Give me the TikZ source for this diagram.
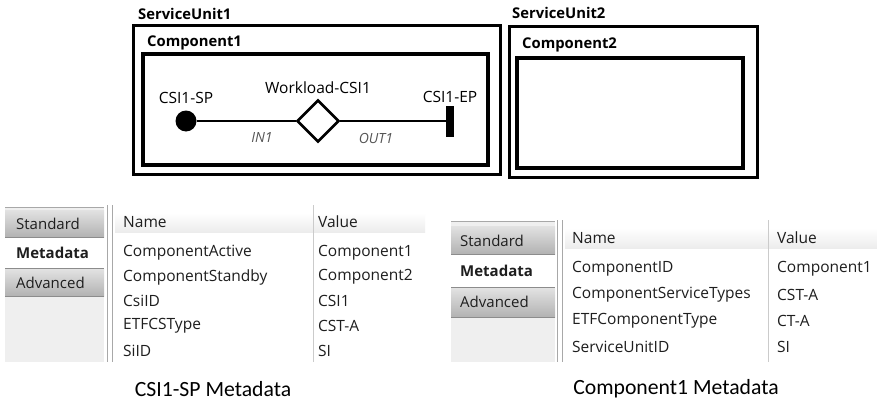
\documentclass[tikz,border=0pt]{standalone}
\usepackage{fontspec}
\setmainfont{Open Sans}
\newfontfamily\capfont{Carlito}
\usetikzlibrary{shapes.geometric}
\definecolor{tabtop}{HTML}{E2E2E2}
\definecolor{tabbot}{HTML}{B2B2B2}
\definecolor{tabedge}{HTML}{8C8C8C}
\definecolor{panebg}{HTML}{EFEFEF}
\definecolor{sepline}{HTML}{A8A8A8}
\definecolor{hdrbg}{HTML}{ECECEC}
\definecolor{ink}{HTML}{1E1E1E}
\definecolor{portlbl}{HTML}{555555}
\tikzset{
  x=1pt, y=-1pt,
  title/.style={anchor=west, inner sep=0pt, font=\bfseries\fontsize{14.8}{16}\selectfont},
  unitbox/.style={draw=black, line width=3pt},
  compbox/.style={draw=black, line width=3.6pt},
  lbl/.style={inner sep=0pt, font=\fontsize{15.5}{17}\selectfont},
  portname/.style={inner sep=0pt, text=portlbl, font=\itshape\fontsize{14}{16}\selectfont},
  wire/.style={line width=2.6pt},
  tabbtn/.style={top color=tabtop, bottom color=tabbot},
  tabtxt/.style={anchor=west, inner sep=0pt, text=ink, font=\fontsize{15}{17}\selectfont},
  cell/.style={anchor=west, inner sep=0pt, text=ink, font=\fontsize{15.5}{17}\selectfont},
  sep/.style={draw=sepline, line width=0.8pt},
  colsep/.style={draw=hdrbg!70!gray, line width=0.6pt},
  caption/.style={inner sep=0pt, font=\capfont\fontsize{21.7}{24}\selectfont}
}
\begin{document}
\begin{tikzpicture}
\useasboundingbox[fill=white] (0,0) rectangle (877,404);

% ---------- service unit 1 ----------
\node[title] (su1) at (138,14) {ServiceUnit1};
\draw[unitbox] (133,26) rectangle (500,174);
\node[title] (c1) at (147,43) {Component1};
\draw[compbox] (143,54) rectangle (488,165);

\node[circle, fill=black, inner sep=0pt, minimum size=21pt] (sp) at (186,121) {};
\node[diamond, draw=black, line width=2.6pt, fill=white, inner sep=0pt,
      minimum width=42pt, minimum height=42pt] (wl) at (318,121) {};
\node[rectangle, fill=black, inner sep=0pt, minimum width=8pt, minimum height=31pt] (ep) at (450,121) {};
\draw[wire] (sp) -- (wl);
\draw[wire] (wl) -- (ep);

\node[lbl] (splbl) at (186,98) {CSI1-SP};
\node[lbl] (wllbl) at (318,88) {Workload-CSI1};
\node[lbl] (eplbl) at (450,97) {CSI1-EP};
\node[portname] (in1) at (262,138) {IN1};
\node[portname] (out1) at (376,138) {OUT1};

% ---------- service unit 2 ----------
\node[title] (su2) at (512,13) {ServiceUnit2};
\draw[unitbox] (509,27) rectangle (757,177);
\node[title] (c2) at (522,45) {Component2};
\draw[compbox] (517,58) rectangle (743,168);

% ---------- CSI1-SP metadata panel ----------
\fill[panebg] (5,207) rectangle (104,362);
\draw[sepline, line width=0.6pt] (5,207.5) -- (104,207.5);
\shade[tabbtn] (5,210) rectangle (104,237);
\draw[tabedge, line width=1pt] (5,237) -- (104,237);
\fill[white] (5,238) rectangle (104,268);
\shade[tabbtn] (5,269) rectangle (104,296);
\draw[tabedge, line width=1pt] (5,268.5) -- (104,268.5);
\draw[tabedge, line width=1pt] (5,296.5) -- (104,296.5);
\node[tabtxt] (lstd) at (16,224) {Standard};
\node[tabtxt, font=\bfseries\fontsize{15}{17}\selectfont] (lmeta) at (16,253) {Metadata};
\node[tabtxt] (ladv) at (16,283) {Advanced};
\draw[sep] (107,205) -- (107,362);
\draw[sep] (112,205) -- (112,362);

\shade[top color=white, bottom color=hdrbg] (115,213) rectangle (425,232);
\draw[colsep] (313,205) -- (313,362);
\node[cell] (lname) at (123,222) {Name};
\node[cell] (lvalue) at (318,222) {Value};
\node[cell] (la1) at (123,253) {ComponentActive};
\node[cell] (lb1) at (318,253) {Component1};
\node[cell] (la2) at (123,277) {ComponentStandby};
\node[cell] (lb2) at (318,277) {Component2};
\node[cell] (la3) at (123,301) {CsiID};
\node[cell] (lb3) at (318,301) {CSI1};
\node[cell] (la4) at (123,326) {ETFCSType};
\node[cell] (lb4) at (318,326) {CST-A};
\node[cell] (la5) at (123,351) {SiID};
\node[cell] (lb5) at (318,351) {SI};

% ---------- Component1 metadata panel ----------
\fill[panebg] (451,221) rectangle (555,362);
\draw[sepline, line width=0.6pt] (451,221.5) -- (555,221.5);
\shade[tabbtn] (451,226) rectangle (555,254);
\draw[tabedge, line width=1pt] (451,254) -- (555,254);
\fill[white] (451,255) rectangle (555,287);
\shade[tabbtn] (451,288) rectangle (555,317);
\draw[tabedge, line width=1pt] (451,287.5) -- (555,287.5);
\draw[tabedge, line width=1pt] (451,317.5) -- (555,317.5);
\node[tabtxt] (rstd) at (460,241) {Standard};
\node[tabtxt, font=\bfseries\fontsize{15}{17}\selectfont] (rmeta) at (460,271) {Metadata};
\node[tabtxt] (radv) at (460,302) {Advanced};
\draw[sep] (557.5,220) -- (557.5,362);
\draw[sep] (562,220) -- (562,362);

\shade[top color=white, bottom color=hdrbg] (565,228) rectangle (877,248);
\draw[colsep] (768,220) -- (768,362);
\node[cell] (rname) at (572,238) {Name};
\node[cell] (rvalue) at (777,238) {Value};
\node[cell] (ra1) at (572,269) {ComponentID};
\node[cell] (rb1) at (777,269) {Component1};
\node[cell] (ra2) at (572,295) {ComponentServiceTypes};
\node[cell] (rb2) at (777,295) {CST-A};
\node[cell] (ra3) at (572,321) {ETFComponentType};
\node[cell] (rb3) at (777,321) {CT-A};
\node[cell] (ra4) at (572,347) {ServiceUnitID};
\node[cell] (rb4) at (777,347) {SI};

% ---------- captions ----------
\node[caption] (cap1) at (213,389) {CSI1-SP Metadata};
\node[caption] (cap2) at (676,389) {Component1 Metadata};
\end{tikzpicture}
\end{document}
